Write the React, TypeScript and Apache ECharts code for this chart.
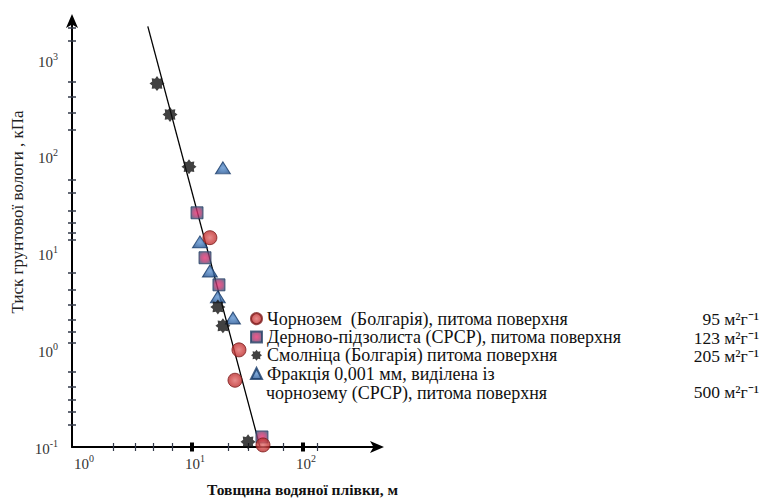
import React, { useEffect, useRef } from 'react';
import * as echarts from 'echarts';

// ---- data ----
const chernozem = [[14.5, 14.6], [26.5, 1.01], [24.4, 0.49], [43.6, 0.105]];
const sodPodzolic = [[11.1, 26.4], [13.1, 9.05], [17.5, 4.75], [42.7, 0.127]];
const smolnitsa = [[4.84, 573], [6.34, 274], [9.4, 79], [17.1, 2.81], [19.0, 1.79], [32, 0.113]];
const fraction = [[19.0, 77], [11.8, 13.2], [14.5, 6.6], [17.1, 3.57], [23.4, 2.16]];
const fitLine = [[4.0, 2230], [41, 0.1]];

const seriesNames = [
  'Чорнозем  (Болгарія), питома поверхня',
  'Дерново-підзолиста (СРСР), питома поверхня',
  'Смолніца (Болгарія) питома поверхня',
  'Фракція 0,001 мм, виділена із',
];
const fractionSecondLine = 'чорнозему (СРСР), питома поверхня';
const specificSurface = ['95', '123', '205', '500'];
const unitText = 'м²г⁻¹';
const yTitle = 'Тиск грунтової вологи , кПа';
const xTitle = 'Товщина водяної плівки, м';

const xLabelValues = [1, 10, 100];
const yLabelValues = [0.1, 1, 10, 100, 1000];
const xMinorTicks = [1.94, 3.07, 4.45, 6.6, 21.1, 32, 66, 134];
const xMajorTicks = [10, 100];
const yMinorTicks = [0.17, 0.23, 0.31, 0.42, 0.6, 1.19, 1.55, 2.07, 2.95, 4.2, 6.3, 13.9, 16.4, 21, 28, 43, 58, 191, 287, 420, 600, 1600, 2170];

const X_MIN = 0.83;
const X_MAX = 474;
const Y_MIN = 0.1;
const Y_MAX = 2600;

const SERIF = 'Liberation Serif';
const LEGEND_FS = 18;

const starPath = (() => {
  const pts: string[] = [];
  for (let i = 0; i < 16; i++) {
    const r = i % 2 === 0 ? 10 : 7;
    const a = (Math.PI * i) / 8 - Math.PI / 2;
    pts.push(`${(r * Math.cos(a)).toFixed(2)} ${(r * Math.sin(a)).toFixed(2)}`);
  }
  return 'path://M' + pts.join(' L') + ' Z';
})();

const powLabel = (v: number) => {
  const e = Math.round(Math.log10(v));
  return '{b|10}{s|' + (e < 0 ? '-' + -e : String(e)) + '}';
};

const labelRich = {
  b: { fontFamily: SERIF, fontSize: 15, color: '#333', lineHeight: 18, verticalAlign: 'bottom' },
  s: { fontFamily: SERIF, fontSize: 10, color: '#333', lineHeight: 10, verticalAlign: 'top' },
};

const radial = (c0: string, c1: string, c2: string) =>
  new echarts.graphic.RadialGradient(0.5, 0.5, 0.6, [
    { offset: 0, color: c0 },
    { offset: 0.55, color: c1 },
    { offset: 1, color: c2 },
  ]);

export default function App() {
  const ref = useRef<HTMLDivElement>(null);
  useEffect(() => {
    if (!ref.current) return;
    const chart = echarts.init(ref.current, null, { renderer: 'svg' });
    const baseX = { type: 'log', logBase: 10, min: X_MIN, max: X_MAX, gridIndex: 0, position: 'bottom', splitLine: { show: false } };
    const baseY = { type: 'log', logBase: 10, min: Y_MIN, max: Y_MAX, gridIndex: 0, position: 'left', splitLine: { show: false } };
    const rows = [319, 338, 356, 392];
    chart.setOption({
      animation: false,
      backgroundColor: '#fff',
      textStyle: { fontFamily: SERIF },
      grid: { left: 72, right: 383, top: 20, bottom: 51, containLabel: false, outerBoundsMode: 'none' },
      xAxis: [
        {
          ...baseX,
          axisLine: { show: true, onZero: false, lineStyle: { color: '#000', width: 2 }, symbol: ['none', 'arrow'], symbolSize: [9, 14], symbolOffset: [0, 6] },
          axisTick: { show: false },
          axisLabel: { customValues: xLabelValues, formatter: powLabel, rich: labelRich, margin: 6, padding: [0, 0, 0, 6] },
        },
        {
          ...baseX,
          offset: -4,
          axisLine: { show: false, onZero: false },
          axisLabel: { show: false },
          axisTick: { show: true, customValues: xMinorTicks, length: 8, lineStyle: { color: '#333a4a', width: 1.2 } },
        },
        {
          ...baseX,
          offset: -4.5,
          axisLine: { show: false, onZero: false },
          axisLabel: { show: false },
          axisTick: { show: true, customValues: xMajorTicks, length: 9, lineStyle: { color: '#000', width: 4 } },
        },
      ],
      yAxis: [
        {
          ...baseY,
          axisLine: { show: true, onZero: false, lineStyle: { color: '#000', width: 2 }, symbol: ['none', 'arrow'], symbolSize: [9, 14], symbolOffset: [0, 6] },
          axisTick: { show: false },
          axisLabel: { customValues: yLabelValues, formatter: powLabel, rich: labelRich, margin: 14 },
        },
        {
          ...baseY,
          offset: -4,
          axisLine: { show: false, onZero: false },
          axisLabel: { show: false },
          axisTick: { show: true, customValues: yMinorTicks, length: 8, lineStyle: { color: '#333a4a', width: 1.5 } },
        },
      ],
      legend: {
        data: seriesNames,
        orient: 'vertical',
        left: 250,
        top: 309.5,
        padding: 0,
        itemWidth: 11,
        itemHeight: 11,
        itemGap: 0,
        selectedMode: false,
        textStyle: { fontFamily: SERIF, fontSize: LEGEND_FS, color: '#111', lineHeight: 18.3 },
      },
      graphic: [
        {
          type: 'text',
          x: 17,
          y: 212,
          rotation: Math.PI / 2,
          style: { text: yTitle, fontFamily: SERIF, fontSize: 17, fill: '#222', align: 'center', verticalAlign: 'middle' },
        },
        {
          type: 'text',
          x: 207,
          y: 481,
          style: { text: xTitle, fontFamily: SERIF, fontSize: 15.5, fontWeight: 'bold', fill: '#111', align: 'left', verticalAlign: 'top' },
        },
        {
          type: 'text',
          x: 266,
          y: rows[3] + 1,
          style: { text: fractionSecondLine, fontFamily: SERIF, fontSize: LEGEND_FS, fill: '#111', align: 'left', verticalAlign: 'middle' },
        },
        ...specificSurface.map((v, i) => ({
          type: 'text',
          x: 759,
          y: rows[i],
          style: { text: `${v} ${unitText}`, fontFamily: SERIF, fontSize: 17.5, fill: '#111', align: 'right', verticalAlign: 'middle' },
        })),
      ],
      series: [
        {
          type: 'line',
          data: fitLine,
          symbol: 'none',
          silent: true,
          lineStyle: { color: '#000', width: 1.3 },
          z: 1,
        },
        {
          name: seriesNames[3],
          type: 'scatter',
          data: fraction,
          symbol: 'triangle',
          symbolSize: [15, 12],
          itemStyle: { color: radial('#5f93d0', '#3b6fae', '#1f4a85'), borderColor: '#163a68', borderWidth: 1 },
          z: 3,
        },
        {
          name: seriesNames[2],
          type: 'scatter',
          data: smolnitsa,
          symbol: starPath,
          symbolSize: 15,
          itemStyle: { color: '#111' },
          z: 3,
        },
        {
          name: seriesNames[1],
          type: 'scatter',
          data: sodPodzolic,
          symbol: 'rect',
          symbolSize: 12,
          itemStyle: { color: radial('#ea2f70', '#a9386f', '#3b5277'), borderColor: '#2a4468', borderWidth: 1 },
          z: 3,
        },
        {
          name: seriesNames[0],
          type: 'scatter',
          data: chernozem,
          symbol: 'circle',
          symbolSize: 14,
          itemStyle: { color: radial('#e07070', '#cc4040', '#a52424'), borderColor: '#7e1c1c', borderWidth: 1 },
          z: 3,
        },
      ],
    });
    return () => chart.dispose();
  }, []);
  return <div ref={ref} style={{ position: 'fixed', left: 0, top: 0, width: 761, height: 498, background: '#fff' }} />;
}
